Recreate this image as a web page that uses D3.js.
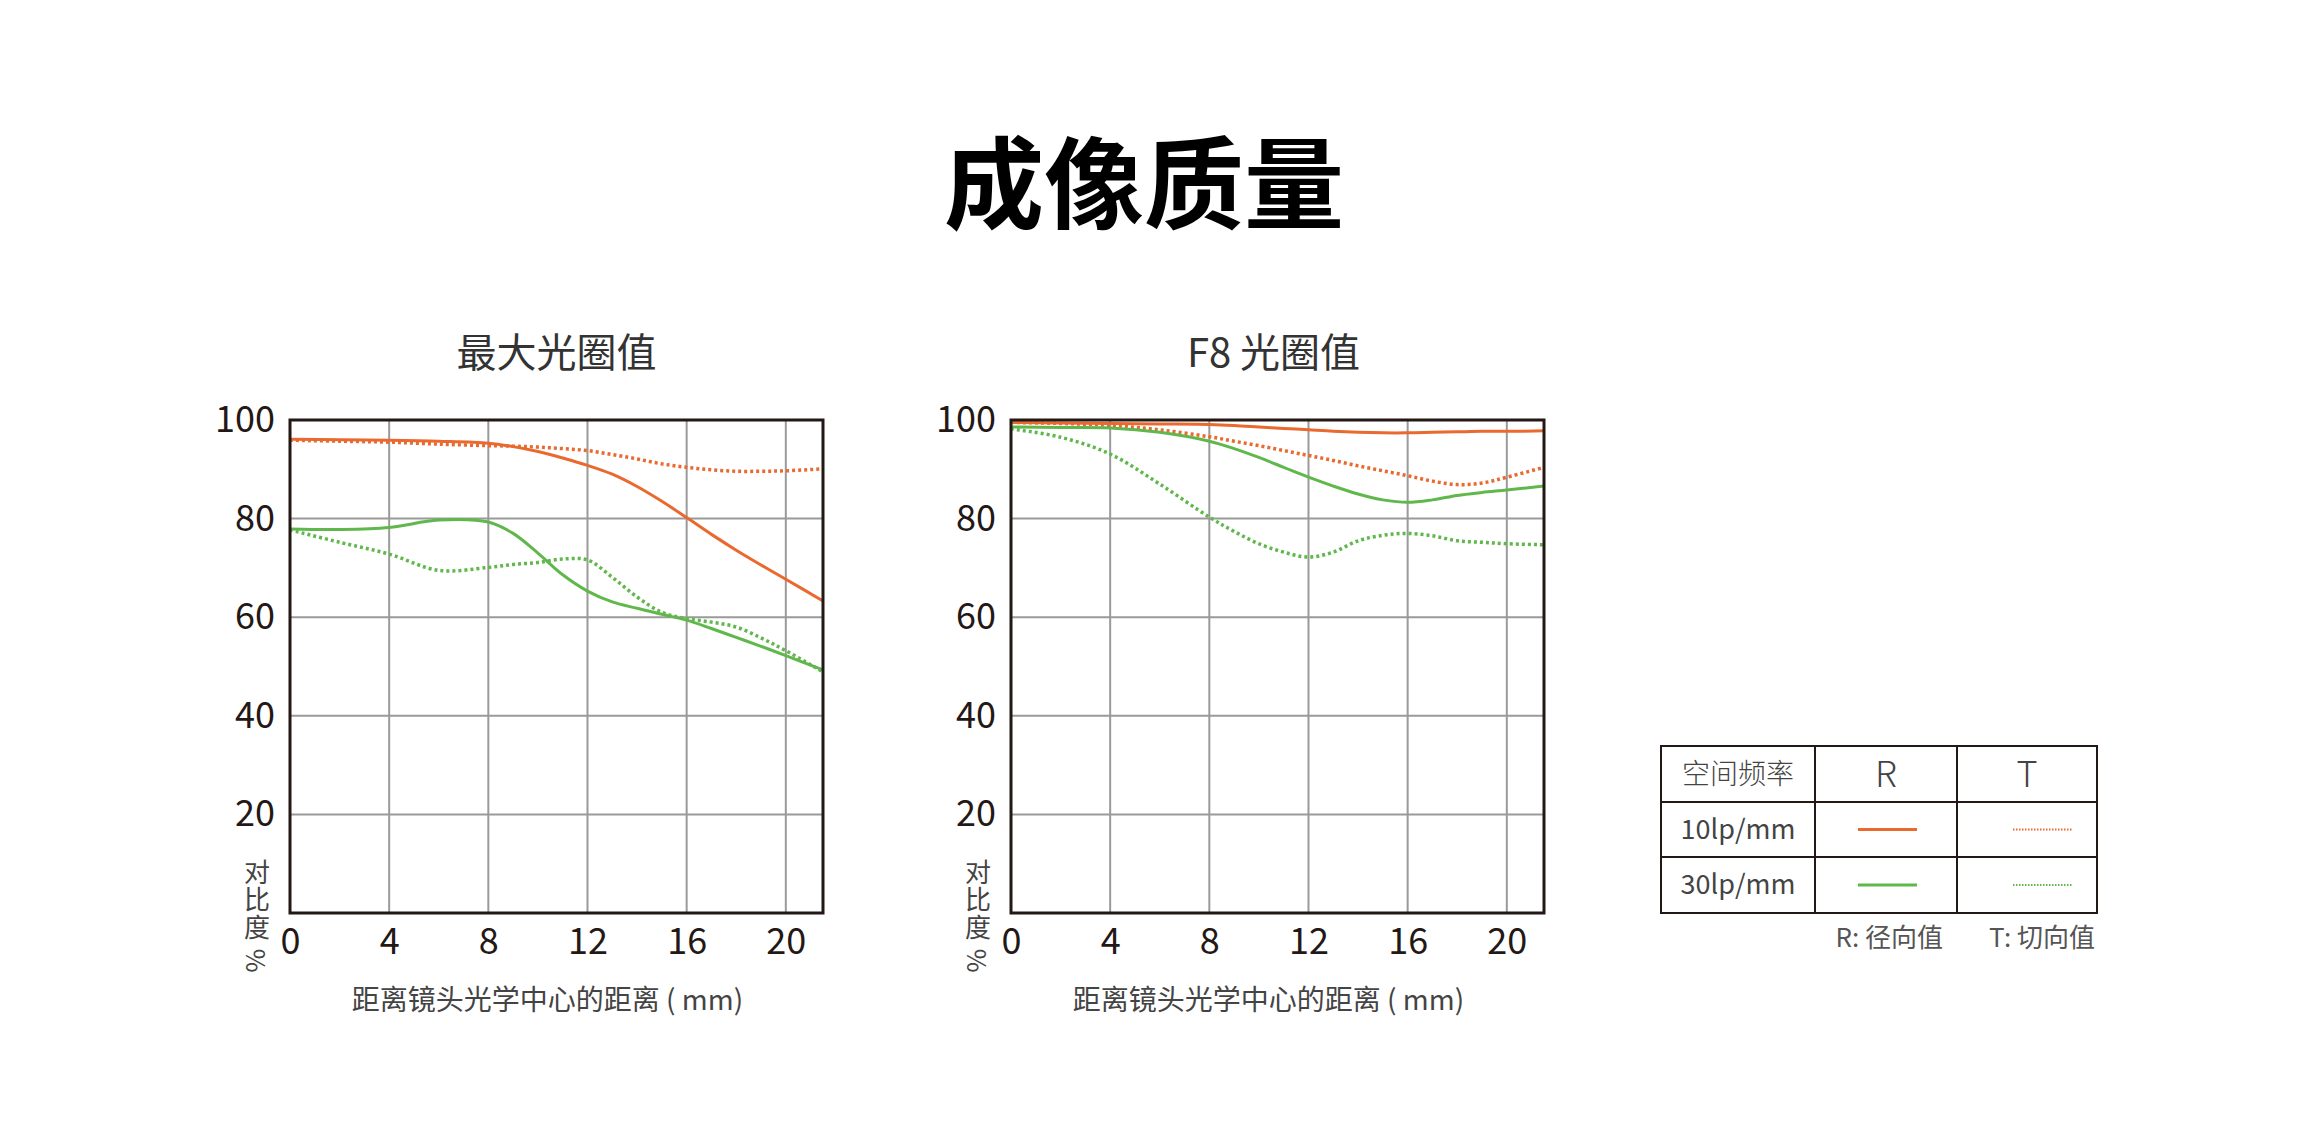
<!DOCTYPE html>
<html>
<head>
<meta charset="utf-8">
<script src="https://cdn.jsdelivr.net/npm/d3@7"></script>
<style>
  html, body { margin: 0; padding: 0; background: #fff; }
  svg { display: block; }
  text { font-family: "Noto Sans CJK SC", "Noto Sans", sans-serif; }
</style>
</head>
<body>
<svg></svg>
<script>
let width = 2320;
let height = 1130;

// image height in mm from lens centre
let positions = [0, 2, 4, 6, 8, 9, 10, 11, 12, 13, 14, 15, 16, 17, 18, 19, 20, 21.5];

let xTicks = [0, 4, 8, 12, 16, 20];
let yTicks = [100, 80, 60, 40, 20];

let panelTitles = ['最大光圈值', 'F8 光圈值'];

// wide open
let openR10 = [96.1, 96.0, 95.9, 95.7, 95.3, 94.6, 93.6, 92.3, 90.8, 89.0, 86.5, 83.5, 80.2, 76.8, 73.6, 70.6, 67.7, 63.3];
let openT10 = [95.9, 95.7, 95.5, 95.1, 94.8, 94.7, 94.5, 94.2, 93.8, 93.0, 92.1, 91.1, 90.4, 89.9, 89.6, 89.6, 89.7, 90.1];
let openR30 = [77.9, 77.8, 78.2, 79.7, 79.3, 77.0, 73.0, 68.6, 65.3, 63.1, 61.8, 60.6, 59.4, 57.7, 55.9, 54.1, 52.2, 49.3];
let openT30 = [77.7, 75.2, 72.8, 69.5, 70.1, 70.7, 71.1, 71.8, 71.6, 68.1, 64.1, 61.0, 59.7, 59.0, 58.0, 55.8, 53.2, 48.9];

// F8
let f8R10 = [99.5, 99.4, 99.3, 99.2, 99.1, 98.9, 98.6, 98.3, 98.0, 97.7, 97.5, 97.4, 97.4, 97.5, 97.6, 97.7, 97.7, 97.8];
let f8T10 = [99.5, 99.3, 98.9, 98.0, 96.6, 95.7, 94.8, 93.8, 92.8, 91.8, 90.7, 89.7, 88.7, 87.6, 86.9, 87.2, 88.4, 90.4];
let f8R30 = [98.6, 98.5, 98.4, 97.5, 95.7, 94.2, 92.4, 90.4, 88.4, 86.6, 85.0, 83.8, 83.3, 83.8, 84.7, 85.3, 85.8, 86.6];
let f8T30 = [98.2, 96.5, 93.1, 87.0, 80.3, 77.4, 74.9, 73.2, 72.2, 73.2, 75.5, 76.6, 77.0, 76.5, 75.5, 75.2, 74.9, 74.7];

let freqLabels = ['10lp/mm', '30lp/mm'];

let orange = '#e9692f';
let green = '#60b84c';

let svg = d3.select('svg')
  .attr('width', width)
  .attr('height', height)
  ;

svg.append('text')
  .attr('x', 1144)
  .attr('y', 221)
  .attr('text-anchor', 'middle')
  .attr('font-size', 100)
  .attr('font-weight', 700)
  .attr('fill', '#000')
  .text('成像质量')
  ;

let panels = [
  { title: panelTitles[0], left: 290, series: [openR10, openT10, openR30, openT30] },
  { title: panelTitles[1], left: 1011, series: [f8R10, f8T10, f8R30, f8T30] },
];
let styles = [
  { color: orange, dash: null },
  { color: orange, dash: '3,3' },
  { color: green, dash: null },
  { color: green, dash: '3,3' },
];

let plotTop = 420;
let plotW = 533;
let plotH = 493;

panels.forEach((p, pi) => {
  let x = d3.scaleLinear().domain([0, 21.5]).range([0, plotW]);
  let y = d3.scaleLinear().domain([0, 100]).range([plotH, 0]);

  let g = svg.append('g')
    .attr('transform', `translate(${p.left},${plotTop})`)
    ;

  svg.append('text')
    .attr('x', p.left + plotW / 2 - (pi ? 4 : 0))
    .attr('y', 367)
    .attr('text-anchor', 'middle')
    .attr('font-size', 40)
    .attr('fill', '#333')
    .text(p.title)
    ;

  // grid
  g.append('g')
    .selectAll('line')
    .data(xTicks.slice(1))
    .enter()
      .append('line')
      .attr('x1', d => x(d))
      .attr('x2', d => x(d))
      .attr('y1', 0)
      .attr('y2', plotH)
      .attr('stroke', '#9a9a9a')
      .attr('stroke-width', 2)
  ;
  g.append('g')
    .selectAll('line')
    .data(yTicks.slice(1))
    .enter()
      .append('line')
      .attr('x1', 0)
      .attr('x2', plotW)
      .attr('y1', d => y(d))
      .attr('y2', d => y(d))
      .attr('stroke', '#9a9a9a')
      .attr('stroke-width', 2)
  ;

  let line = d3.line()
    .x((d, i) => x(positions[i]))
    .y(d => y(d))
    .curve(d3.curveCatmullRom.alpha(0.5))
    ;

  g.append('g')
    .selectAll('path')
    .data(p.series)
    .enter()
      .append('path')
      .attr('d', d => line(d))
      .attr('fill', 'none')
      .attr('stroke', (d, i) => styles[i].color)
      .attr('stroke-width', (d, i) => styles[i].dash ? 3.5 : 3)
      .attr('stroke-dasharray', (d, i) => styles[i].dash)
  ;

  g.append('rect')
    .attr('width', plotW)
    .attr('height', plotH)
    .attr('fill', 'none')
    .attr('stroke', '#231815')
    .attr('stroke-width', 3)
    ;

  // axes
  let yAxis = g.append('g')
    .call(d3.axisLeft(y).tickValues(yTicks).tickSize(0).tickPadding(15))
    ;
  yAxis.select('.domain').remove();
  yAxis.selectAll('text')
    .attr('font-size', 36)
    .attr('fill', '#231815')
    .style('font-family', '"Noto Sans CJK SC", sans-serif')
    ;

  let xAxis = g.append('g')
    .attr('transform', `translate(0,${plotH})`)
    .call(d3.axisBottom(x).tickValues(xTicks).tickSize(0).tickPadding(15))
    ;
  xAxis.select('.domain').remove();
  xAxis.selectAll('text')
    .attr('font-size', 36)
    .attr('fill', '#231815')
    .style('font-family', '"Noto Sans CJK SC", sans-serif')
    ;

  // y label, written top to bottom
  g.append('text')
    .attr('x', -33)
    .attr('y', 439)
    .attr('text-anchor', 'start')
    .attr('font-size', 26)
    .attr('fill', '#444')
    .attr('letter-spacing', 1.5)
    .style('writing-mode', 'vertical-rl')
    .text('对比度 %')
    ;

  svg.append('text')
    .attr('x', p.left + plotW / 2 - 9)
    .attr('y', 1010)
    .attr('text-anchor', 'middle')
    .attr('font-size', 28)
    .attr('fill', '#444')
    .attr('xml:space', 'preserve')
    .text('距离镜头光学中心的距离 ( mm)')
    ;
});

// legend table
let cols = [1661, 1815, 1957, 2097];
let rows = [746, 802, 857, 913];

let lg = svg.append('g');

lg.append('rect')
  .attr('x', cols[0])
  .attr('y', rows[0])
  .attr('width', cols[3] - cols[0])
  .attr('height', rows[3] - rows[0])
  .attr('fill', 'none')
  .attr('stroke', '#231815')
  .attr('stroke-width', 2)
  ;
lg.selectAll('.vline')
  .data(cols.slice(1, 3))
  .enter()
    .append('line')
    .attr('x1', d => d)
    .attr('x2', d => d)
    .attr('y1', rows[0])
    .attr('y2', rows[3])
    .attr('stroke', '#231815')
    .attr('stroke-width', 2)
  ;
lg.selectAll('.hline')
  .data(rows.slice(1, 3))
  .enter()
    .append('line')
    .attr('x1', cols[0])
    .attr('x2', cols[3])
    .attr('y1', d => d)
    .attr('y2', d => d)
    .attr('stroke', '#231815')
    .attr('stroke-width', 2)
  ;

let headers = ['空间频率', 'R', 'T'];
lg.selectAll('.head')
  .data(headers)
  .enter()
    .append('text')
    .attr('x', (d, i) => (cols[i] + cols[i + 1]) / 2)
    .attr('y', (rows[0] + rows[1]) / 2)
    .attr('dy', '0.35em')
    .attr('text-anchor', 'middle')
    .attr('font-size', (d, i) => i ? 36 : 28)
    .attr('font-weight', 300)
    .attr('fill', '#444')
    .text(d => d)
  ;

lg.selectAll('.freq')
  .data(freqLabels)
  .enter()
    .append('text')
    .attr('x', (cols[0] + cols[1]) / 2)
    .attr('y', (d, i) => (rows[i + 1] + rows[i + 2]) / 2)
    .attr('dy', '0.35em')
    .attr('text-anchor', 'middle')
    .attr('font-size', 27)
    .attr('fill', '#444')
    .text(d => d)
  ;

let legendKeys = d3.cross([0, 1], [0, 1]); // [row, col]
lg.selectAll('.key')
  .data(legendKeys)
  .enter()
    .append('line')
    .attr('x1', d => d[1] ? 2013 : 1858)
    .attr('x2', d => d[1] ? 2073 : 1917)
    .attr('y1', d => (rows[d[0] + 1] + rows[d[0] + 2]) / 2)
    .attr('y2', d => (rows[d[0] + 1] + rows[d[0] + 2]) / 2)
    .attr('stroke', d => d[0] ? green : orange)
    .attr('stroke-width', d => d[1] ? 2 : 3)
    .attr('stroke-dasharray', d => d[1] ? '1.5,1.5' : null)
  ;

lg.append('text')
  .attr('x', 1943)
  .attr('y', 947)
  .attr('text-anchor', 'end')
  .attr('font-size', 26)
  .attr('fill', '#555')
  .text('R: 径向值')
  ;
lg.append('text')
  .attr('x', 2095)
  .attr('y', 947)
  .attr('text-anchor', 'end')
  .attr('font-size', 26)
  .attr('fill', '#555')
  .text('T: 切向值')
  ;
</script>
</body>
</html>
